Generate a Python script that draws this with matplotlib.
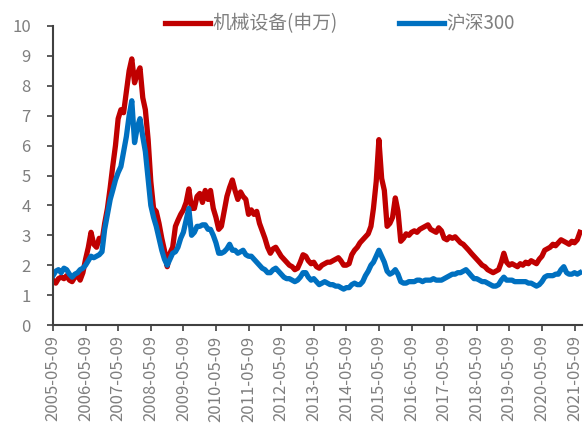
import pandas as pd
import matplotlib
matplotlib.use('Agg')
import matplotlib.pyplot as plt

plt.rcParams['font.family'] = ['Noto Sans CJK SC', 'DejaVu Sans']

# 月度净值，起点 2005-05-09
start_date = '2005-05-09'

machinery = [
    1.5, 1.4, 1.55, 1.6, 1.55, 1.65, 1.5, 1.45, 1.6, 1.65, 1.5, 1.75,   # 2005-05 ~ 2006-04
    2.2, 2.6, 3.1, 2.7, 2.6, 2.9, 2.8, 3.4, 3.9, 4.6, 5.3, 6.0,
    6.9, 7.2, 7.1, 7.8, 8.5, 8.9, 8.1, 8.4, 8.6, 7.6, 7.2, 6.2,
    4.8, 3.9, 3.8, 3.4, 2.9, 2.5, 1.95, 2.4, 2.6, 3.3, 3.5, 3.7,
    3.85, 4.1, 4.55, 3.9, 3.9, 4.3, 4.4, 4.1, 4.5, 4.2, 4.5, 3.9,
    3.6, 3.2, 3.3, 3.8, 4.3, 4.6, 4.85, 4.5, 4.2, 4.45, 4.3, 4.2,
    3.7, 3.85, 3.7, 3.8, 3.4, 3.15, 2.9, 2.6, 2.4, 2.55, 2.6, 2.45,
    2.3, 2.2, 2.1, 2.0, 1.95, 1.85, 1.9, 2.1, 2.35, 2.3, 2.15, 2.05,
    2.1, 1.95, 1.9, 2.0, 2.05, 2.1, 2.1, 2.15, 2.2, 2.25, 2.15, 2.0,
    2.0, 2.05, 2.35, 2.5, 2.6, 2.75, 2.85, 2.95, 3.05, 3.3, 3.9, 4.8,
    6.2, 4.9, 4.5, 3.3, 3.4, 3.6, 4.25, 3.8, 2.8, 2.9, 3.05, 3.0,
    3.1, 3.15, 3.1, 3.2, 3.25, 3.3, 3.35, 3.2, 3.15, 3.1, 3.25, 3.15,
    2.9, 2.85, 2.95, 2.9, 2.95, 2.85, 2.75, 2.7, 2.6, 2.5, 2.4, 2.3,
    2.2, 2.1, 2.0, 1.95, 1.85, 1.8, 1.75, 1.8, 1.85, 2.1, 2.4, 2.1,
    2.0, 2.05, 2.0, 1.95, 2.05, 2.0, 2.1, 2.05, 2.15, 2.1, 2.05, 2.2,
    2.3, 2.5, 2.55, 2.6, 2.7, 2.65, 2.75, 2.85, 2.8, 2.75, 2.7, 2.8,
    2.75, 2.85, 3.1,                                                    # 2021-05 ~ 2021-07
]

hs300 = [
    1.65, 1.8, 1.85, 1.75, 1.9, 1.85, 1.7, 1.6, 1.7, 1.75, 1.85, 1.9,
    2.0, 2.15, 2.3, 2.25, 2.3, 2.35, 2.45, 3.2, 3.7, 4.2, 4.5, 4.85,
    5.1, 5.3, 5.8, 6.3, 7.0, 7.5, 6.1, 6.6, 6.9, 6.3, 5.8, 4.9,
    4.0, 3.6, 3.3, 2.9, 2.5, 2.2, 2.0, 2.2, 2.4, 2.45, 2.6, 2.9,
    3.1, 3.5, 3.9, 3.0, 3.1, 3.3, 3.3, 3.35, 3.35, 3.2, 3.2, 3.0,
    2.75, 2.4, 2.4, 2.45, 2.55, 2.7, 2.5, 2.5, 2.4, 2.45, 2.5, 2.35,
    2.3, 2.3, 2.2, 2.1, 2.0, 1.9, 1.85, 1.75, 1.75, 1.85, 1.9, 1.8,
    1.7, 1.6, 1.55, 1.55, 1.5, 1.45, 1.5, 1.6, 1.75, 1.75, 1.6, 1.5,
    1.55, 1.45, 1.35, 1.4, 1.45, 1.4, 1.35, 1.35, 1.3, 1.3, 1.25, 1.2,
    1.25, 1.25, 1.35, 1.4, 1.35, 1.35, 1.45, 1.65, 1.8, 2.0, 2.1, 2.3,
    2.5, 2.3, 2.1, 1.8, 1.7, 1.75, 1.85, 1.7, 1.45, 1.4, 1.4, 1.45,
    1.45, 1.45, 1.5, 1.5, 1.45, 1.5, 1.5, 1.5, 1.55, 1.5, 1.5, 1.5,
    1.55, 1.6, 1.65, 1.7, 1.7, 1.75, 1.75, 1.8, 1.85, 1.75, 1.65, 1.55,
    1.55, 1.5, 1.45, 1.45, 1.4, 1.35, 1.3, 1.3, 1.35, 1.5, 1.6, 1.5,
    1.5, 1.5, 1.45, 1.45, 1.45, 1.45, 1.45, 1.4, 1.4, 1.35, 1.3, 1.35,
    1.45, 1.6, 1.65, 1.65, 1.65, 1.7, 1.7, 1.85, 1.95, 1.75, 1.7, 1.7,
    1.75, 1.7, 1.75,
]

tick_labels = ['2005-05-09', '2006-05-09', '2007-05-09', '2008-05-09', '2009-05-09',
               '2010-05-09', '2011-05-09', '2012-05-09', '2013-05-09', '2014-05-09',
               '2015-05-09', '2016-05-09', '2017-05-09', '2018-05-09', '2019-05-09',
               '2020-05-09', '2021-05-09']

dates = pd.date_range(start_date, periods=len(machinery), freq=pd.DateOffset(months=1))

text_color = '#7f7f7f'
axis_color = '#404040'

fig = plt.figure(figsize=(5.87, 4.28), dpi=100)
ax = fig.add_axes([53 / 587, 1 - 325 / 428, 529 / 587, 299 / 428])

ax.plot(dates, machinery, color='#C00000', lw=3.8, label='机械设备(申万)', solid_joinstyle='round')
ax.plot(dates, hs300, color='#0070C0', lw=3.8, label='沪深300', solid_joinstyle='round')

ax.set_ylim(0, 10)
ax.set_yticks(range(0, 11))
ax.set_xlim(pd.Timestamp(start_date), pd.Timestamp('2021-08-01'))
ax.set_xticks(pd.to_datetime(tick_labels))
ax.set_xticklabels(tick_labels, rotation=90)

for s in ['top', 'right']:
    ax.spines[s].set_visible(False)
for s in ['left', 'bottom']:
    ax.spines[s].set_color(axis_color)
    ax.spines[s].set_linewidth(1.5)
ax.tick_params(axis='both', colors=axis_color, labelcolor=text_color,
               labelsize=12, length=4, width=1.2, direction='out')
ax.tick_params(axis='y', pad=12)

fig.legend(loc='center', bbox_to_anchor=(340 / 587, 1 - 24 / 428), ncol=2,
           frameon=False, fontsize=13.5, handlelength=2.4, handletextpad=0.1,
           columnspacing=3.3, labelcolor=text_color)

fig.savefig('out.png', dpi=100)
